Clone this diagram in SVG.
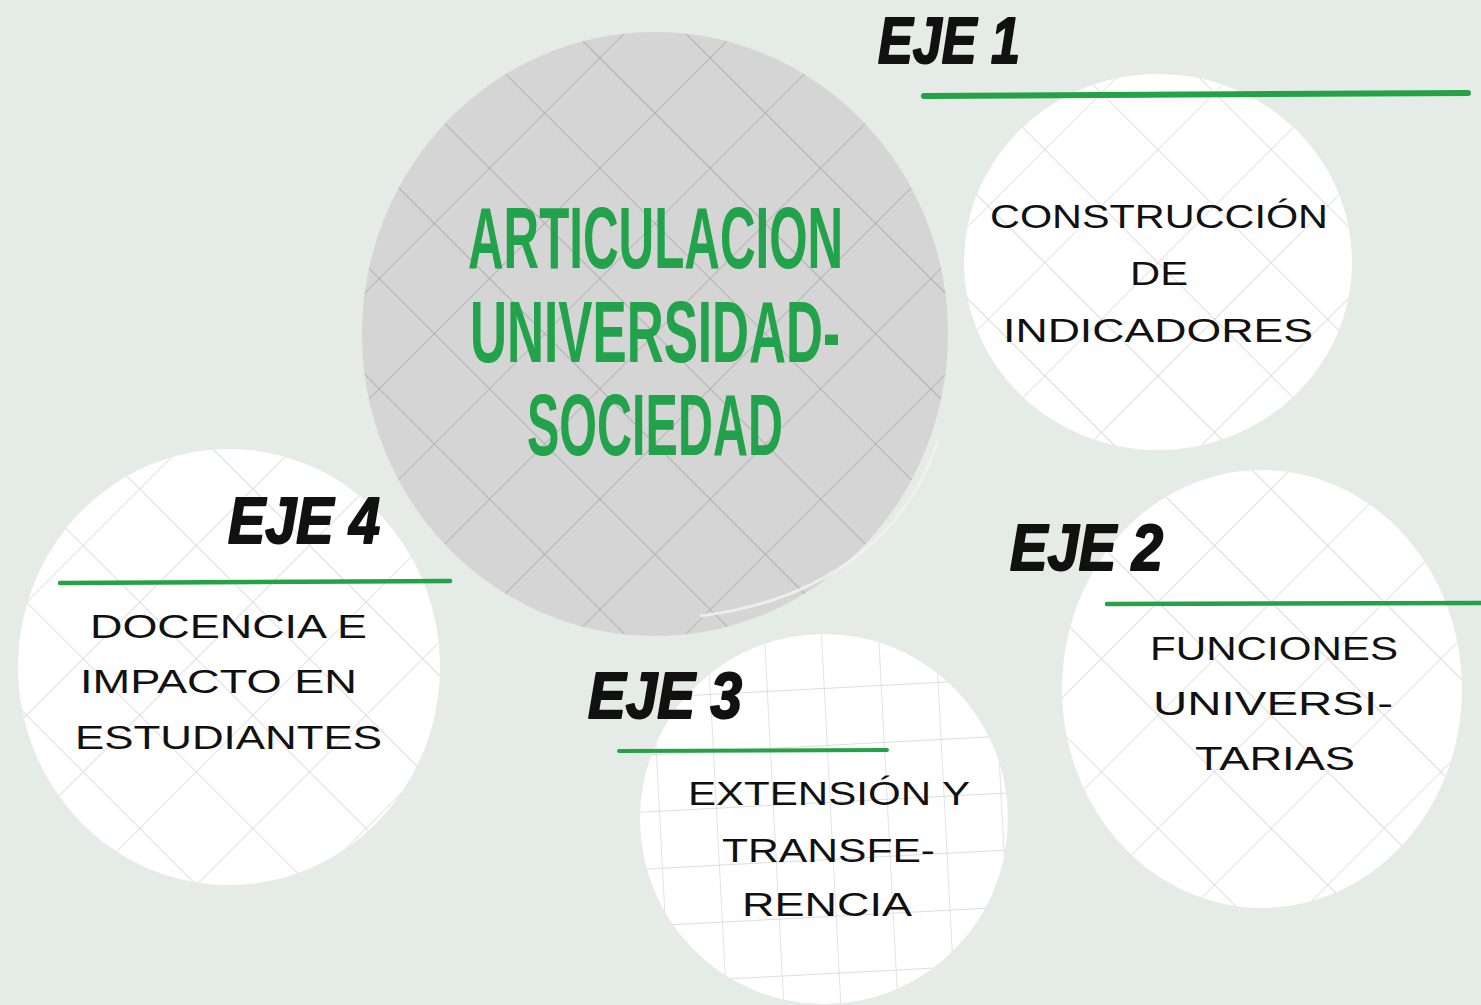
<svg xmlns="http://www.w3.org/2000/svg" width="1481" height="1005" viewBox="0 0 1481 1005">
<style>
.eje{font-family:"Liberation Sans",Arial,sans-serif;font-weight:700;font-style:italic;font-size:64px;fill:#111;stroke:#111;stroke-width:2;stroke-linejoin:round}
.hand{font-family:"Liberation Sans",Arial,sans-serif;font-weight:400;font-size:34px;fill:#111;text-anchor:start}
.title{font-family:"Liberation Sans",Arial,sans-serif;font-weight:700;font-size:88px;fill:#22a24b;text-anchor:start}
.bar{stroke:#25a248;stroke-linecap:round;fill:none}
</style>
<defs>
<pattern id="diagGrey" width="78" height="78" patternUnits="userSpaceOnUse" patternTransform="translate(655 333) rotate(45)">
<path d="M0 0H78M0 0V78" stroke="#a4a4a4" stroke-width="1.3" fill="none"/>
</pattern>
<pattern id="diagWhite" width="80" height="80" patternUnits="userSpaceOnUse" patternTransform="translate(1158 262) rotate(45)">
<path d="M0 0H80M0 0V80" stroke="#d2d2d2" stroke-width="1.3" fill="none"/>
</pattern>
<pattern id="sqWhite" width="57" height="57" patternUnits="userSpaceOnUse" patternTransform="translate(650 640) rotate(-3)">
<path d="M0 0H57M0 0V57" stroke="#d2d2d2" stroke-width="1.3" fill="none"/>
</pattern>
</defs>
<rect width="1481" height="1005" fill="#e5ebe6"/>

<g id="node-center">
<ellipse cx="655" cy="334" rx="293" ry="302" fill="#d5d5d5"/>
<ellipse cx="655" cy="334" rx="293" ry="302" fill="url(#diagGrey)"/>
<path d="M938 440 C 910 530 830 600 700 616" stroke="#f2f2f2" stroke-width="3" fill="none" opacity="0.8"/>
<text class="title" transform="translate(468 268) scale(0.56 1)" x="0" y="0" textLength="670" lengthAdjust="spacingAndGlyphs">ARTICULACION</text>
<text class="title" transform="translate(470 362) scale(0.56 1)" x="0" y="0" textLength="661" lengthAdjust="spacingAndGlyphs">UNIVERSIDAD-</text>
<text class="title" transform="translate(527 455) scale(0.56 1)" x="0" y="0" textLength="457" lengthAdjust="spacingAndGlyphs">SOCIEDAD</text>
</g>

<g id="node-eje1">
<ellipse cx="1158" cy="262" rx="194" ry="188" fill="#ffffff"/>
<ellipse cx="1158" cy="262" rx="194" ry="188" fill="url(#diagWhite)"/>
<path class="bar" d="M924 96 L1468 93" stroke-width="6"/>
<text class="eje" x="878" y="63" textLength="142" lengthAdjust="spacingAndGlyphs">EJE 1</text>
<text class="hand" x="990" y="228" textLength="338" lengthAdjust="spacingAndGlyphs">CONSTRUCCIÓN</text>
<text class="hand" x="1130" y="285" textLength="58" lengthAdjust="spacingAndGlyphs">DE</text>
<text class="hand" x="1003" y="342" textLength="310" lengthAdjust="spacingAndGlyphs">INDICADORES</text>
</g>

<g id="node-eje2">
<ellipse cx="1262" cy="689" rx="200" ry="219" fill="#ffffff"/>
<ellipse cx="1262" cy="689" rx="200" ry="219" fill="url(#diagWhite)"/>
<path class="bar" d="M1107 604 L1481 603" stroke-width="4.5"/>
<text class="eje" x="1010" y="570" textLength="153" lengthAdjust="spacingAndGlyphs">EJE 2</text>
<text class="hand" x="1150" y="660" textLength="248" lengthAdjust="spacingAndGlyphs">FUNCIONES</text>
<text class="hand" x="1153" y="715" textLength="240" lengthAdjust="spacingAndGlyphs">UNIVERSI-</text>
<text class="hand" x="1195" y="770" textLength="160" lengthAdjust="spacingAndGlyphs">TARIAS</text>
</g>

<g id="node-eje3">
<ellipse cx="824" cy="819" rx="184" ry="185" fill="#ffffff"/>
<ellipse cx="824" cy="819" rx="184" ry="185" fill="url(#sqWhite)"/>
<path class="bar" d="M619 751 L887 750" stroke-width="4"/>
<text class="eje" x="588" y="718" textLength="154" lengthAdjust="spacingAndGlyphs">EJE 3</text>
<text class="hand" x="688" y="805" textLength="282" lengthAdjust="spacingAndGlyphs">EXTENSIÓN Y</text>
<text class="hand" x="722" y="862" textLength="213" lengthAdjust="spacingAndGlyphs">TRANSFE-</text>
<text class="hand" x="742" y="916" textLength="170" lengthAdjust="spacingAndGlyphs">RENCIA</text>
</g>

<g id="node-eje4">
<ellipse cx="229" cy="667" rx="211" ry="218" fill="#ffffff"/>
<ellipse cx="229" cy="667" rx="211" ry="218" fill="url(#diagWhite)"/>
<path class="bar" d="M60 583 L450 581" stroke-width="4.5"/>
<text class="eje" x="228" y="543" textLength="152" lengthAdjust="spacingAndGlyphs">EJE 4</text>
<text class="hand" x="90" y="638" textLength="277" lengthAdjust="spacingAndGlyphs">DOCENCIA E</text>
<text class="hand" x="80" y="693" textLength="277" lengthAdjust="spacingAndGlyphs">IMPACTO EN</text>
<text class="hand" x="75" y="749" textLength="307" lengthAdjust="spacingAndGlyphs">ESTUDIANTES</text>
</g>

<g id="connectors"/>
</svg>
